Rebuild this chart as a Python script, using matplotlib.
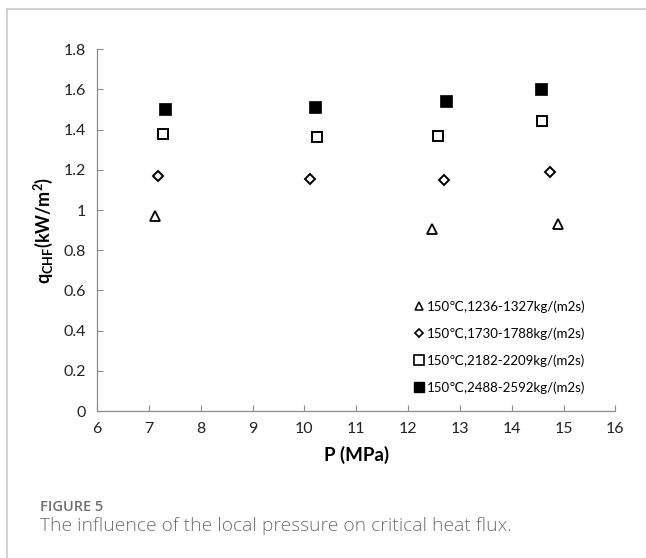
import matplotlib
matplotlib.use("Agg")
from matplotlib import pyplot as plt
from matplotlib.lines import Line2D

plt.rcParams['font.family'] = ['Lato', 'DejaVu Sans']
plt.rcParams['mathtext.fontset'] = 'custom'
plt.rcParams['mathtext.rm'] = 'Lato'
plt.rcParams['mathtext.bf'] = 'Lato:bold'

# data: pressure (MPa) and q_CHF for each mass-flux group
p_1236 = [7.12, 12.46, 14.90]
q_1236 = [0.97, 0.905, 0.93]

p_1730 = [7.17, 10.11, 12.70, 14.73]
q_1730 = [1.167, 1.154, 1.149, 1.19]

p_2182 = [7.27, 10.24, 12.58, 14.59]
q_2182 = [1.377, 1.365, 1.369, 1.443]

p_2488 = [7.30, 10.21, 12.74, 14.57]
q_2488 = [1.504, 1.514, 1.544, 1.600]

labels = ["150℃,1236-1327kg/(m2s)", "150℃,1730-1788kg/(m2s)",
          "150℃,2182-2209kg/(m2s)", "150℃,2488-2592kg/(m2s)"]

xticks = list(range(6, 17))
yticks = [0, 0.2, 0.4, 0.6, 0.8, 1, 1.2, 1.4, 1.6, 1.8]
yticklabels = ["0", "0.2", "0.4", "0.6", "0.8", "1", "1.2", "1.4", "1.6", "1.8"]

fig = plt.figure(figsize=(6.46, 5.58), dpi=100)
ax = fig.add_axes([0.1505, 0.2634, 0.802, 0.6483])

ax.plot(p_1236, q_1236, ls="none", marker="^", ms=7.5, mfc="white", mec="black", mew=1.3)
ax.plot(p_1730, q_1730, ls="none", marker="D", ms=5.5, mfc="white", mec="black", mew=1.4)
ax.plot(p_2182, q_2182, ls="none", marker="s", ms=7.5, mfc="white", mec="black", mew=1.4)
ax.plot(p_2488, q_2488, ls="none", marker="s", ms=9, mfc="black", mec="black", mew=0.5)

ax.set_xlim(6, 16)
ax.set_ylim(0, 1.8)
ax.set_xticks(xticks)
ax.set_yticks(yticks)
ax.set_yticklabels(yticklabels)
ax.tick_params(direction="in", length=4, width=0.8, color="#8c8c8c",
               labelsize=11.5, labelcolor="#222222", pad=8)
for s in ["top", "right"]:
    ax.spines[s].set_visible(False)
for s in ["left", "bottom"]:
    ax.spines[s].set_color("#8c8c8c")
    ax.spines[s].set_linewidth(0.9)

ax.set_xlabel("P (MPa)", fontsize=13.5, fontweight="bold", labelpad=7)
ax.set_ylabel(r"$\mathbf{q_{CHF}(kW/m^2)}$", fontsize=13, labelpad=6)

handles = [
    Line2D([], [], ls="none", marker="^", ms=6, mfc="white", mec="black", mew=1.1),
    Line2D([], [], ls="none", marker="D", ms=4.5, mfc="white", mec="black", mew=1.2),
    Line2D([], [], ls="none", marker="s", ms=7, mfc="white", mec="black", mew=1.2),
    Line2D([], [], ls="none", marker="s", ms=7.5, mfc="black", mec="black"),
]
ax.legend(handles, labels, loc="lower left", bbox_to_anchor=(0.595, 0.022),
          frameon=False, fontsize=9.5, handlelength=0.6, handletextpad=0.3,
          labelspacing=1.1, borderaxespad=0.3)

# page frame and caption
fig.add_artist(Line2D([0.011, 0.011], [0, 0.984], color="#c8c8c8", lw=1.2))
fig.add_artist(Line2D([0.011, 1.0], [0.984, 0.984], color="#c8c8c8", lw=1.2))
fig.text(0.062, 0.084, "FIGURE 5", fontsize=10.5, fontweight="semibold", color="#707070",
         family=["Open Sans", "DejaVu Sans"])
fig.text(0.062, 0.048, "The influence of the local pressure on critical heat flux.",
         fontsize=13.9, color="#707070", family=["Open Sans", "DejaVu Sans"],
         fontweight="light")

fig.savefig("out.png", dpi=100)
